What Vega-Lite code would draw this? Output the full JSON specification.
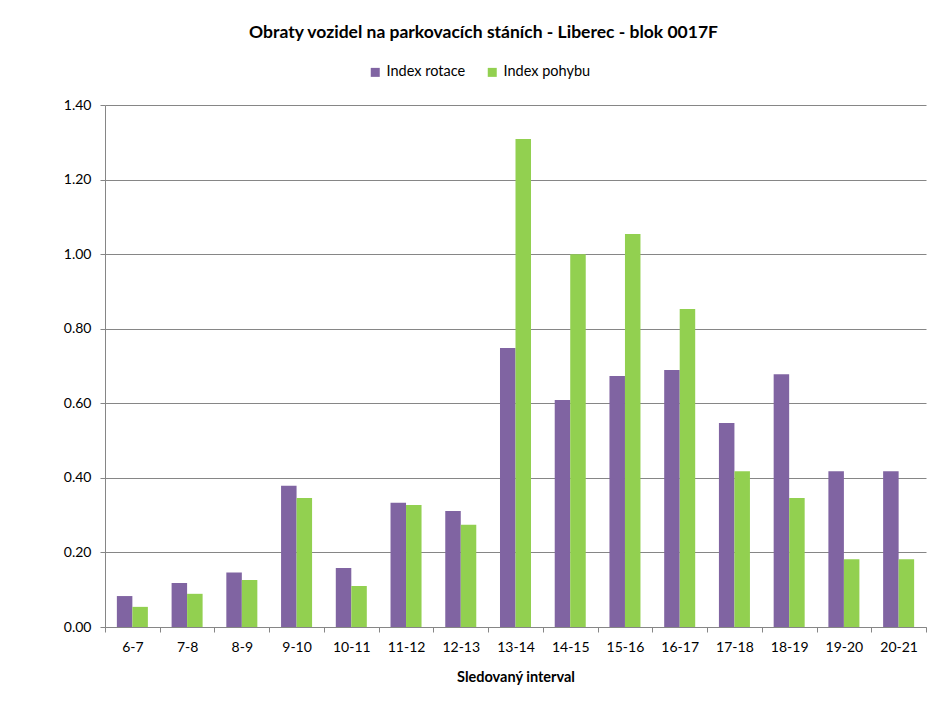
{
  "$schema": "https://vega.github.io/schema/vega-lite/v6.json",
  "width": 821,
  "height": 522,
  "autosize": {"type": "none"},
  "padding": {"left": 105, "top": 105, "right": 11, "bottom": 79},
  "background": "white",
  "title": {
    "text": "Obraty vozidel na parkovacích stáních - Liberec - blok 0017F",
    "anchor": "middle",
    "frame": "group",
    "dx": -32,
    "offset": 24,
    "font": "Lato",
    "fontSize": 17.5,
    "fontWeight": "bold",
    "color": "#000000"
  },
  "data": {
    "values": [
      {"interval": "6-7", "series": "Index rotace", "value": 0.083},
      {"interval": "6-7", "series": "Index pohybu", "value": 0.054},
      {"interval": "7-8", "series": "Index rotace", "value": 0.118},
      {"interval": "7-8", "series": "Index pohybu", "value": 0.089},
      {"interval": "8-9", "series": "Index rotace", "value": 0.146},
      {"interval": "8-9", "series": "Index pohybu", "value": 0.126},
      {"interval": "9-10", "series": "Index rotace", "value": 0.379},
      {"interval": "9-10", "series": "Index pohybu", "value": 0.346},
      {"interval": "10-11", "series": "Index rotace", "value": 0.158},
      {"interval": "10-11", "series": "Index pohybu", "value": 0.110},
      {"interval": "11-12", "series": "Index rotace", "value": 0.333},
      {"interval": "11-12", "series": "Index pohybu", "value": 0.327},
      {"interval": "12-13", "series": "Index rotace", "value": 0.311},
      {"interval": "12-13", "series": "Index pohybu", "value": 0.274},
      {"interval": "13-14", "series": "Index rotace", "value": 0.748},
      {"interval": "13-14", "series": "Index pohybu", "value": 1.309},
      {"interval": "14-15", "series": "Index rotace", "value": 0.609},
      {"interval": "14-15", "series": "Index pohybu", "value": 1.0},
      {"interval": "15-16", "series": "Index rotace", "value": 0.673},
      {"interval": "15-16", "series": "Index pohybu", "value": 1.054},
      {"interval": "16-17", "series": "Index rotace", "value": 0.689},
      {"interval": "16-17", "series": "Index pohybu", "value": 0.853},
      {"interval": "17-18", "series": "Index rotace", "value": 0.547},
      {"interval": "17-18", "series": "Index pohybu", "value": 0.418},
      {"interval": "18-19", "series": "Index rotace", "value": 0.678},
      {"interval": "18-19", "series": "Index pohybu", "value": 0.346},
      {"interval": "19-20", "series": "Index rotace", "value": 0.418},
      {"interval": "19-20", "series": "Index pohybu", "value": 0.182},
      {"interval": "20-21", "series": "Index rotace", "value": 0.418},
      {"interval": "20-21", "series": "Index pohybu", "value": 0.182}
    ]
  },
  "mark": {"type": "bar"},
  "encoding": {
    "x": {
      "field": "interval",
      "type": "nominal",
      "sort": null,
      "scale": {"paddingInner": 0, "paddingOuter": 0},
      "axis": {
        "title": "Sledovaný interval",
        "titleFont": "Lato",
        "titleFontSize": 14.5,
        "titleFontWeight": "bold",
        "titleColor": "#000000",
        "titlePadding": 16,
        "labelAngle": 0,
        "labelFont": "Lato",
        "labelFontSize": 14,
        "labelColor": "#000000",
        "labelPadding": 8,
        "tickBand": "extent",
        "tickSize": 5,
        "tickColor": "#868686",
        "domainColor": "#868686",
        "grid": false
      }
    },
    "xOffset": {
      "field": "series",
      "type": "nominal",
      "sort": ["Index rotace", "Index pohybu"],
      "scale": {"paddingInner": 0, "paddingOuter": 0.765}
    },
    "y": {
      "field": "value",
      "type": "quantitative",
      "scale": {"domain": [0, 1.4], "nice": false},
      "axis": {
        "title": null,
        "values": [0, 0.2, 0.4, 0.6, 0.8, 1.0, 1.2, 1.4],
        "format": ".2f",
        "labelFont": "Lato",
        "labelFontSize": 14,
        "labelColor": "#000000",
        "labelPadding": 9,
        "tickSize": 5,
        "tickColor": "#868686",
        "domainColor": "#868686",
        "gridColor": "#868686",
        "gridWidth": 1
      }
    },
    "color": {
      "field": "series",
      "type": "nominal",
      "sort": ["Index rotace", "Index pohybu"],
      "scale": {"domain": ["Index rotace", "Index pohybu"], "range": ["#8064A2", "#92D050"]},
      "legend": {
        "title": null,
        "orient": "none",
        "direction": "horizontal",
        "legendX": 263,
        "legendY": -40,
        "symbolType": "square",
        "symbolSize": 81,
        "symbolStrokeWidth": 0,
        "labelFont": "Lato",
        "labelFontSize": 14.5,
        "labelColor": "#000000",
        "labelOffset": 4,
        "columnPadding": 19
      }
    }
  },
  "config": {
    "view": {"stroke": null}
  }
}
